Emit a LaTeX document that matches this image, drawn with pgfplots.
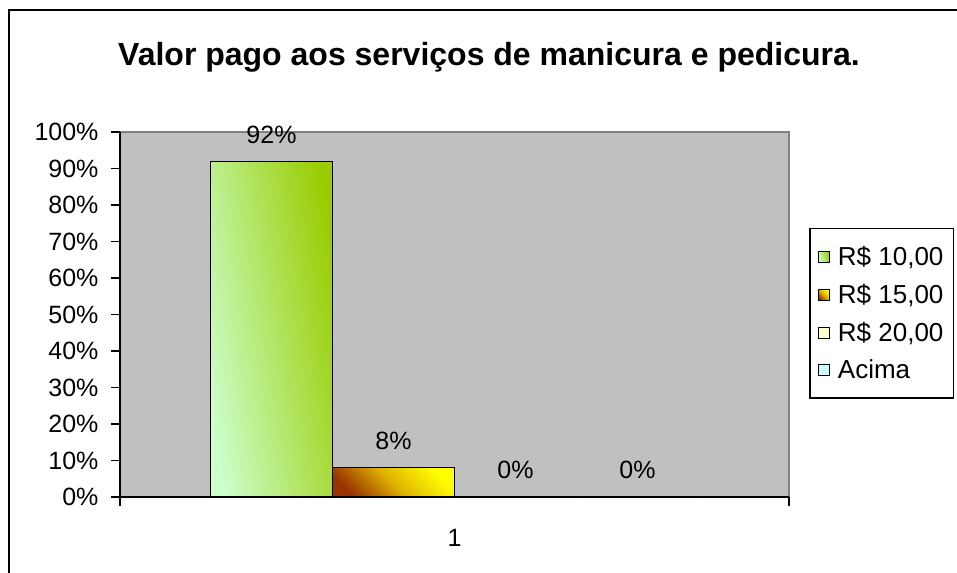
\documentclass[border=0pt]{standalone}
\usepackage{fontspec}
\setmainfont{Liberation Sans}
\usepackage{pgfplots}
\pgfplotsset{compat=1.18}
\definecolor{plotgray}{HTML}{C0C0C0}
\definecolor{bordergray}{HTML}{808080}
\definecolor{gA}{HTML}{CCFFCC}
\definecolor{gB}{HTML}{99CC00}
\definecolor{bA}{HTML}{993300}
\definecolor{bB}{HTML}{FFFF00}
\definecolor{bM}{HTML}{E0B400}
\definecolor{cC}{HTML}{FFFFCC}
\definecolor{cD}{HTML}{CCFFFF}
\newcommand\lf{\fontsize{25bp}{30bp}\selectfont}
\newcommand\lgf{\fontsize{26bp}{31bp}\selectfont}
\begin{document}
\begin{tikzpicture}[x=1bp,y=1bp]
\useasboundingbox (0,0) rectangle (957,573);
\draw[line width=2.5bp] (9,0) -- (9,563) -- (957,563);
\node[font=\fontsize{32bp}{38bp}\selectfont\bfseries] at (489,516) {Valor pago aos serviços de manicura e pedicura.};
\begin{axis}[
  at={(120bp,76bp)}, anchor=south west,
  scale only axis, width=669bp, height=365bp,
  xmin=0.5, xmax=1.5, ymin=0, ymax=100,
  ybar=0pt, bar width=122bp,
  axis background/.style={fill=plotgray, draw=bordergray, line width=1.5bp},
  axis lines*=left, axis line style={black, line width=1.5bp, -},
  tick align=outside, major tick length=9bp, tick style={black, line width=1.2bp},
  xtick={0.5,1.5}, xticklabels={},
  xlabel={1},
  xlabel style={font=\lf, at={(axis description cs:0.5,0)}, anchor=center, yshift=-41bp},
  ytick={0,10,...,100},
  yticklabels={0\%,10\%,20\%,30\%,40\%,50\%,60\%,70\%,80\%,90\%,100\%},
  yticklabel style={font=\lf, xshift=-9bp},
  nodes near coords={\pgfmathprintnumber{\pgfplotspointmeta}\%},
  nodes near coords style={font=\lf, yshift=14bp, black},
  /pgf/number format/assume math mode=true,
  legend style={at={(axis description cs:1.03,0.737)}, anchor=north west, draw=black, line width=1.5bp, font=\lgf, row sep=13bp, inner xsep=8bp, inner ysep=16bp},
  legend image code/.code={\draw[#1,line width=1bp] (0bp,-5.5bp) rectangle (11bp,5.5bp); \path (17bp,0bp);},
  legend cell align=left,
]
\addplot[draw=black, line width=1.2bp, left color=gA, right color=gB, shading angle=100] coordinates {(1,92)};
\addlegendentry{R\$ 10,00}
\addplot[draw=black, line width=1.2bp, left color=bA, right color=bB, middle color=bM, shading angle=135] coordinates {(1,8)};
\addlegendentry{R\$ 15,00}
\addplot[draw=black, line width=1.2bp, fill=cC] coordinates {(1,0)};
\addlegendentry{R\$ 20,00}
\addplot[draw=black, line width=1.2bp, fill=cD] coordinates {(1,0)};
\addlegendentry{Acima}
\end{axis}
\end{tikzpicture}
\end{document}
